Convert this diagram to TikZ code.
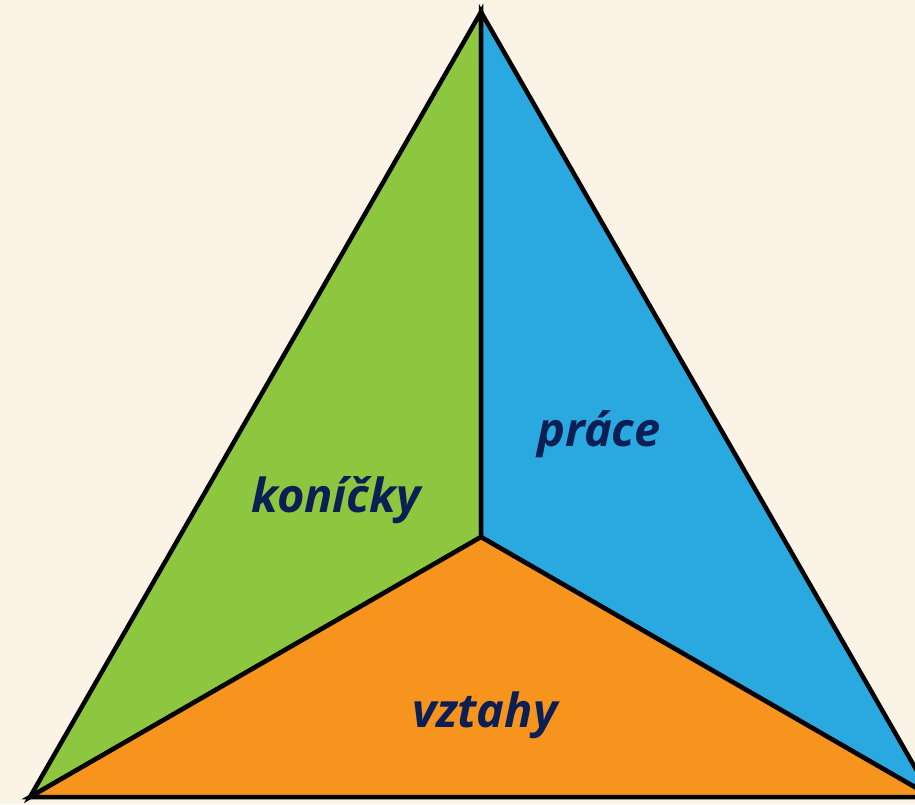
\documentclass[tikz,border=0pt]{standalone}
\usepackage{fontspec}
\setmainfont{Open Sans}
\definecolor{bg}{HTML}{FBF3E6}
\definecolor{cgreen}{HTML}{8DC63F}
\definecolor{cblue}{HTML}{29A9E0}
\definecolor{corange}{HTML}{F7941E}
\definecolor{navy}{HTML}{0B1F55}
\begin{document}
\begin{tikzpicture}[x=1pt,y=-1pt,
  part/.style={draw=black,line width=4.5pt,line join=miter},
  lab/.style={text=navy,font=\fontsize{47}{56}\selectfont\bfseries\itshape}]
\fill[bg] (0,0) rectangle (915,804);
\useasboundingbox (0,0) rectangle (915,804);
\coordinate (A) at (481,12);
\coordinate (L) at (30,797);
\coordinate (R) at (932,797);
\coordinate (C) at (481,537);
\filldraw[part,fill=cgreen] (A) -- (C) -- (L) -- cycle;
\filldraw[part,fill=cblue] (A) -- (R) -- (C) -- cycle;
\filldraw[part,fill=corange] (C) -- (R) -- (L) -- cycle;
\node[lab] (k) at (336,500) {koníčky};
\node[lab] (p) at (599,434) {práce};
\node[lab] (v) at (485,715) {vztahy};
\end{tikzpicture}
\end{document}
